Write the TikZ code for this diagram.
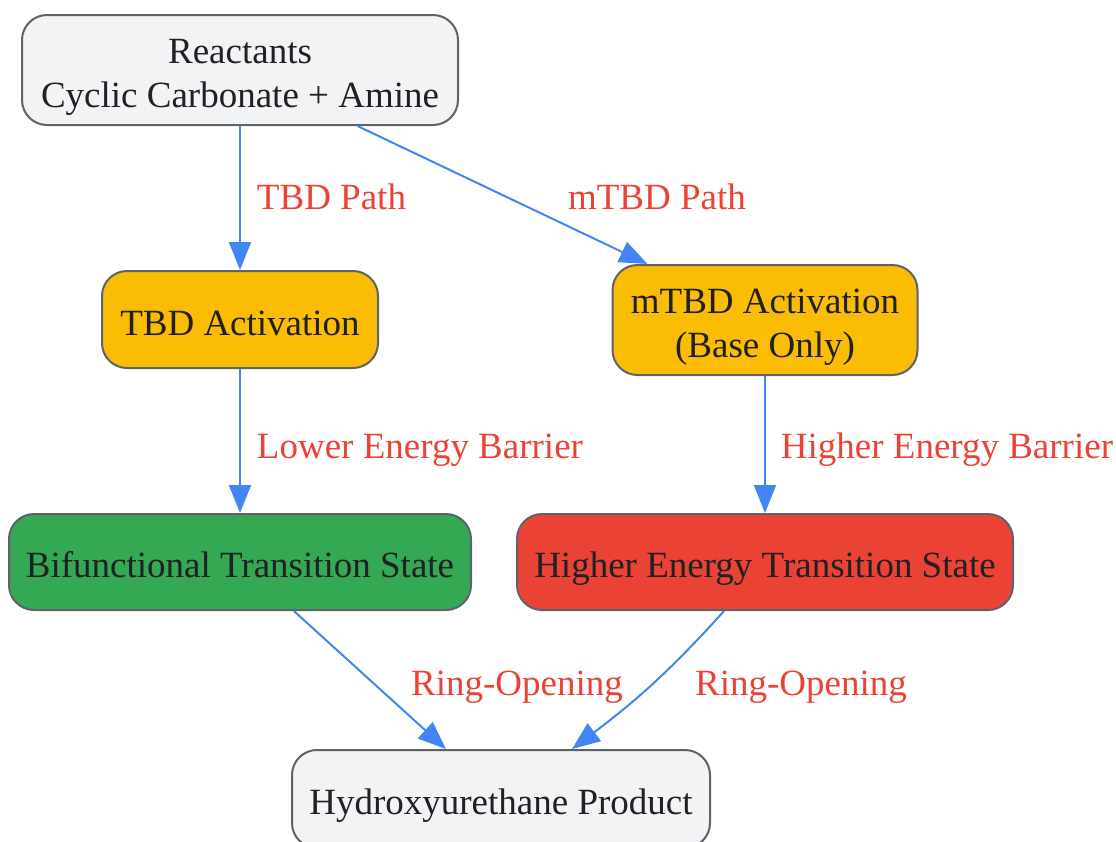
\documentclass[tikz,border=0pt]{standalone}
\usepackage{fontspec}
\setmainfont{Liberation Serif}
\usetikzlibrary{arrows.meta,shapes}

\definecolor{boxgrey}{HTML}{F1F3F4}
\definecolor{edgegrey}{HTML}{5F6368}
\definecolor{amber}{HTML}{FBBC04}
\definecolor{gbgreen}{HTML}{34A853}
\definecolor{gbred}{HTML}{EA4335}
\definecolor{gbblue}{HTML}{4285F4}
\definecolor{inkdark}{HTML}{202124}

\begin{document}
\begin{tikzpicture}[x=0.5pt,y=-0.5pt]
\tikzstyle{stage}=[rectangle,rounded corners=12.5pt,draw=edgegrey,line width=1pt,align=center,text=inkdark,inner sep=0pt,text height=15.5pt,text depth=0pt,font=\fontsize{18.5}{22}\selectfont]
\tikzstyle{twoline}=[text height=37pt,text depth=0pt]
\tikzstyle{plain}=[stage,fill=boxgrey]
\tikzstyle{activ}=[stage,fill=amber]
\tikzstyle{lowts}=[stage,fill=gbgreen]
\tikzstyle{hights}=[stage,fill=gbred]
\tikzstyle{flow}=[gbblue,line width=1pt,-{Triangle[length=14pt,width=11pt]}]
\tikzstyle{lbl}=[text=gbred,inner sep=0pt,text height=12.6pt,text depth=0pt,font=\fontsize{18.5}{22}\selectfont]

\useasboundingbox (0,0) rectangle (1116,842);

%reactants on top.
\node[plain,twoline,minimum width=218pt,minimum height=55pt] (reactants) at (240,70) {Reactants\\Cyclic Carbonate + Amine};

%the two catalysts.
\node[activ,minimum width=138pt,minimum height=48.5pt] (tbd_act) at (240,319.5) {TBD Activation};
\node[activ,twoline,minimum width=152.5pt,minimum height=55pt] (mtbd_act) at (765,320) {mTBD Activation\\(Base Only)};
\draw[flow] (reactants) -- (tbd_act) node[lbl] at (331.5,197) {TBD Path};
\draw[flow] (reactants) -- (mtbd_act) node[lbl] at (657,197) {mTBD Path};

%transition states.
\node[lowts,minimum width=231pt,minimum height=48pt] (bifunc_ts) at (240,562) {Bifunctional Transition State};
\node[hights,minimum width=248pt,minimum height=48pt] (higher_ts) at (765,562) {Higher Energy Transition State};
\draw[flow] (tbd_act) -- (bifunc_ts) node[lbl] at (420,446) {Lower Energy Barrier};
\draw[flow] (mtbd_act) -- (higher_ts) node[lbl] at (947,446) {Higher Energy Barrier};

%product.
\node[plain,minimum width=209pt,minimum height=49pt] (product) at (501,799) {Hydroxyurethane Product};
\draw[flow] (bifunc_ts) -- (product) node[lbl] at (517,683) {Ring-Opening};
\draw[flow] (higher_ts.south -| 724,0) to[out=-132,in=37] (product.north -| 572,0);
\node[lbl] (ring_open_r) at (801,683) {Ring-Opening};

\end{tikzpicture}
\end{document}
